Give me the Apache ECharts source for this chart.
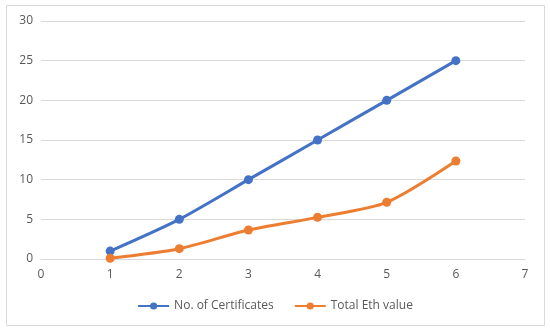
<!DOCTYPE html>
<html><head><meta charset="utf-8">
<script src="https://cdn.jsdelivr.net/npm/echarts@6/dist/echarts.min.js"></script>
<style>html,body{margin:0;padding:0;background:#fff}#c{width:550px;height:332px}</style>
</head><body><div id="c"></div>
<script>
const xValues = [1, 2, 3, 4, 5, 6];
const certificates = [1, 5, 10, 15, 20, 25];
const ethValues = [0.1, 1.3, 3.65, 5.25, 7.15, 12.35];
const seriesNames = ['No. of Certificates', 'Total Eth value'];

const chart = echarts.init(document.getElementById('c'));
const txt = '#595959';
chart.setOption({
  animation: false,
  graphic: [{type:'rect', shape:{x:6.5,y:5.5,width:538,height:320}, style:{fill:'none', stroke:'#d9d9d9', lineWidth:1}}],
  grid: {left: 41, right: 25, top: 21, bottom: 73},
  legend: {
    bottom: 15, left: 'center', itemWidth: 31, itemHeight: 9, itemGap: 20,
    textStyle: {color: txt, fontSize: 12, fontFamily: 'Open Sans'},
    data: seriesNames
  },
  xAxis: {
    type: 'value', min: 0, max: 7, interval: 1,
    axisLine: {show: true, lineStyle: {color: '#d9d9d9'}},
    axisTick: {show: false},
    splitLine: {show: false},
    axisLabel: {color: txt, fontSize: 12, fontFamily: 'Open Sans', margin: 10}
  },
  yAxis: {
    type: 'value', min: 0, max: 30, interval: 5,
    axisLine: {show: false}, axisTick: {show: false},
    splitLine: {lineStyle: {color: '#d9d9d9'}},
    axisLabel: {color: txt, fontSize: 12, fontFamily: 'Open Sans', margin: 8}
  },
  series: [
    {name: seriesNames[0], type: 'line', smooth: 0.25,
     data: xValues.map((x,i)=>[x, certificates[i]]),
     symbol: 'circle', symbolSize: 9,
     lineStyle: {color: '#4472C4', width: 3}, itemStyle: {color: '#4472C4'}},
    {name: seriesNames[1], type: 'line', smooth: 0.25,
     data: xValues.map((x,i)=>[x, ethValues[i]]),
     symbol: 'circle', symbolSize: 9,
     lineStyle: {color: '#ED7D31', width: 3}, itemStyle: {color: '#ED7D31'}}
  ]
});
</script></body></html>
